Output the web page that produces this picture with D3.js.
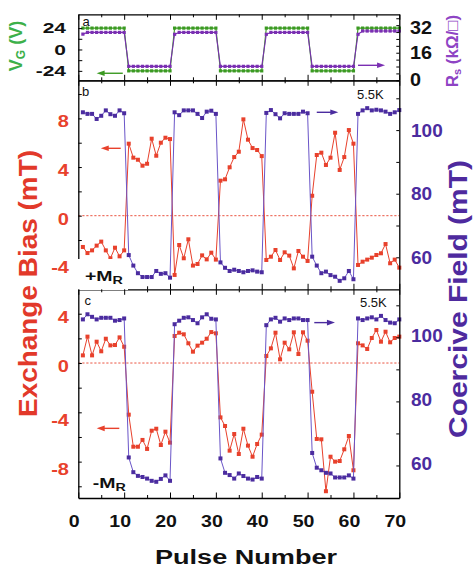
<!DOCTYPE html>
<html><head><meta charset="utf-8">
<script src="https://cdn.jsdelivr.net/npm/d3@7"></script>
<style>
body{margin:0;background:#fff}
svg{display:block}
text{font-family:"Liberation Sans",Arial,Helvetica,sans-serif}
</style>
</head><body>
<svg id="chart" width="474" height="569"></svg>
<script>
// ---------------- DATA ----------------
const pulses = [1,2,3,4,5,6,7,8,9,10,11,12,13,14,15,16,17,18,19,20,21,22,23,24,25,26,27,28,29,30,
  31,32,33,34,35,36,37,38,39,40,41,42,43,44,45,46,47,48,49,50,51,52,53,54,55,56,57,58,59,60,
  61,62,63,64,65,66,67,68,69,70];

// panel a : gate voltage (V) and sheet resistance (kOhm/sq)
const gateVoltage = [24,24,24,24,24,24,24,24,24,24, -24,-24,-24,-24,-24,-24,-24,-24,-24,-24,
  24,24,24,24,24,24,24,24,24,24, -24,-24,-24,-24,-24,-24,-24,-24,-24,-24,
  24,24,24,24,24,24,24,24,24,24, -24,-24,-24,-24,-24,-24,-24,-24,-24,-24,
  24,24,24,24,24,24,24,24,24,24];
const sheetResistance = [26.8,27.8,27.8,27.8,27.8,27.8,27.8,27.8,27.8,27.8, 8.1,8.1,8.1,8.1,8.1,8.1,8.1,8.1,8.1,8.1,
  26.7,27.8,27.8,27.8,27.8,27.8,27.8,27.8,27.8,27.8, 8.1,8.1,8.1,8.1,8.1,8.1,8.1,8.1,8.1,8.1,
  26.7,27.8,27.8,27.8,27.8,27.8,27.8,27.8,27.8,27.8, 8.1,8.1,8.1,8.1,8.1,8.1,8.1,8.1,8.1,8.1,
  26.7,28.6,28.6,28.6,28.6,28.6,28.6,28.6,28.6,28.6];

// panel b : +M_R
const exchangeBiasPlus = [-2.57,-3.07,-2.85,-2.46,-2.13,-2.85,-3.5,-2.63,-3.34,-2.85,
  5.92,4.77,4.6,4.11,4.27,6.33,4.93,6.0,6.41,6.3,
  -4.87,-2.41,-3.5,-1.94,-4.1,-3.97,-3.26,-3.59,-3.04,-3.61,
  2.88,2.99,3.98,4.82,5.26,7.92,6.25,5.56,5.4,4.9,
  -3.64,-3.37,-2.82,-3.64,-3.01,-3.28,-4.33,-2.9,-3.37,-3.72,
  1.64,4.99,5.18,4.17,4.77,6.82,3.76,4.82,7.04,5.92,
  -4.05,-3.78,-3.61,-3.45,-3.23,-3.09,-2.33,-3.91,-3.61,-4.27];
const coerciveFieldPlus = [105.6,105.1,105.1,103.5,104.5,106.2,105.0,104.5,106.2,105.3,
  60.7,57.4,55.0,53.8,53.8,53.8,55.7,54.8,55.0,53.6,
  105.6,104.7,106.2,106.2,106.2,105.1,103.8,105.8,106.1,105.1,
  58.4,56.7,55.7,56.1,55.7,55.3,55.7,55.9,55.5,55.3,
  105.4,106.3,105.0,103.7,105.3,105.1,105.1,105.1,105.8,105.3,
  60.2,57.4,55.0,55.5,54.4,53.9,52.6,53.4,55.7,53.1,
  105.1,106.2,106.9,106.2,106.4,106.2,105.8,105.1,105.6,106.3];

// panel c : -M_R
const exchangeBiasMinus = [0.62,2.14,0.62,1.73,0.95,1.97,1.43,1.46,2.08,1.32,
  -4.19,-6.79,-6.79,-6.24,-6.97,-5.49,-5.33,-6.65,-5.57,-6.46,
  2.19,2.46,2.33,1.6,0.92,1.41,1.65,1.97,2.51,2.41,
  -4.41,-5.11,-7.11,-5.76,-7.38,-5.33,-6.7,-7.6,-6.57,-5.81,
  0.57,1.19,2.46,0.3,1.65,1.11,2.49,0.73,2.49,1.81,
  -2.33,-6.16,-6.19,-10.4,-7.6,-8.0,-7.95,-7.0,-5.92,-8.7,
  1.6,1.43,1.14,2.03,2.68,1.73,2.54,1.68,2.03,2.14];
const coerciveFieldMinus = [105.6,107.2,106.4,105.6,106.1,106.1,106.1,105.2,105.4,105.9,
  62.5,57.9,56.75,56.4,55.9,55.2,54.9,55.8,56.9,55.2,
  104.1,105.2,106.1,106.25,105.4,104.4,106.25,107.2,105.8,105.6,
  62.2,57.7,57.0,55.9,57.5,56.7,55.9,55.6,56.4,55.9,
  103.8,105.6,106.1,104.9,105.9,105.4,105.9,105.9,105.4,105.4,
  63.9,59.3,58.5,57.7,57.5,56.25,56.25,56.25,56.9,55.9,
  105.9,105.4,105.9,106.25,105.6,106.7,105.4,104.6,104.4,105.6];

// tick values / labels
const xMajorTicks = [0,10,20,30,40,50,60,70];
const xMinorTicks = [5,15,25,35,45,55,65];
const vgTicks = [-24,-12,0,12,24];
const vgLabels = [-24,0,24];
const rsTicks = [0,4,8,12,16,20,24,28,32,36];
const rsLabels = [0,16,32];
const ebPlusTicks = [-4,-2,0,2,4,6,8,10];
const ebPlusLabels = [-4,0,4,8];
const ebMinusTicks = [-10,-8,-6,-4,-2,0,2,4];
const ebMinusLabels = [-8,-4,0,4];
const hcTicks = [60,70,80,90,100,110];
const hcLabels = [60,80,100];

// ---------------- STYLE ----------------
const RED = "#e8412c", PURPLE = "#4b2c9f", PURPLE_LINE = "#6a55c8",
      GREEN = "#3b9a22", VIOLET = "#7a2fb2";

const svg = d3.select("#chart");
const X0 = 78.3, X1 = 399.3;
const x = d3.scaleLinear().domain([0,70]).range([X0,X1]);

const A = {top:14.3, bottom:80.3}, B = {top:80.3, bottom:289.3}, C = {top:289.3, bottom:498};

const yA  = d3.scaleLinear().domain([-34.6,39.5]).range([A.bottom,A.top]);
const yAR = d3.scaleLinear().domain([0,38.3]).range([A.bottom,A.top]);
const yB  = d3.scaleLinear().domain([-6.05,11.13]).range([B.bottom,B.top]);
const yBR = d3.scaleLinear().domain([49.94,115.66]).range([B.bottom,B.top]);
const yC  = d3.scaleLinear().domain([-10.95,5.98]).range([C.bottom,C.top]);
const yCR = d3.scaleLinear().domain([49.84,115]).range([C.bottom,C.top]);

function styleAxis(g, keepDomain){
  g.selectAll("text").remove();
  g.selectAll("line").attr("stroke","#000").attr("stroke-width",1);
  if (keepDomain) g.select(".domain").attr("stroke","#000").attr("stroke-width",1.3);
  else g.select(".domain").remove();
}
function addAxis(gen, tx, ty, keepDomain){
  svg.append("g").attr("transform",`translate(${tx},${ty})`).call(gen).call(g=>styleAxis(g,keepDomain));
}
function xAxes(top, bottom, drawTop=true){
  addAxis(d3.axisBottom(x).tickValues(xMajorTicks).tickSize(-5.5).tickSizeOuter(0).tickFormat(""),0,bottom,true);
  addAxis(d3.axisBottom(x).tickValues(xMinorTicks).tickSize(-3).tickFormat(""),0,bottom,false);
  if (drawTop){
    addAxis(d3.axisTop(x).tickValues(xMajorTicks).tickSize(-5.5).tickSizeOuter(0).tickFormat(""),0,top,true);
    addAxis(d3.axisTop(x).tickValues(xMinorTicks).tickSize(-3).tickFormat(""),0,top,false);
  }
}
function yAxes(yL, yR, lt, rt, ls, rs){
  addAxis(d3.axisLeft(yL).tickValues(lt).tickSize(-ls).tickSizeOuter(0).tickFormat(""),X0,0,true);
  addAxis(d3.axisRight(yR).tickValues(rt).tickSize(-rs).tickSizeOuter(0).tickFormat(""),X1,0,true);
}
function label(txt, tx, ty, size, color, anchor, sx){
  svg.append("text").attr("transform",`translate(${tx},${ty}) scale(${sx},1)`)
    .attr("text-anchor",anchor).attr("dominant-baseline","central")
    .attr("font-size",size).attr("font-weight","bold").attr("fill",color).text(txt);
}
function series(data, yS, lineColor, ptColor, size, lw){
  const pts = pulses.map((p,i)=>({p, v:data[i]}));
  svg.append("path").datum(pts)
    .attr("d", d3.line().x(d=>x(d.p)).y(d=>yS(d.v)))
    .attr("fill","none").attr("stroke",lineColor).attr("stroke-width",lw);
  svg.append("g").selectAll("rect").data(pts).join("rect")
    .attr("x",d=>x(d.p)-size/2).attr("y",d=>yS(d.v)-size/2)
    .attr("width",size).attr("height",size).attr("fill",ptColor);
}
function zeroLine(yS){
  svg.append("line").attr("x1",X0).attr("x2",X1).attr("y1",yS(0)).attr("y2",yS(0))
    .attr("stroke",RED).attr("stroke-width",0.9).attr("stroke-dasharray","2.2,1.8");
}
function arrow(p1, p2, v, yS, color){
  const xa = x(p1), xb = x(p2), yy = yS(v);
  const dir = Math.sign(xb - xa);
  svg.append("line").attr("x1",xa).attr("x2",xb - dir*5).attr("y1",yy).attr("y2",yy)
    .attr("stroke",color).attr("stroke-width",1.4);
  svg.append("path").attr("d",`M${xb},${yy} L${xb-dir*8},${yy-2.8} L${xb-dir*8},${yy+2.8} Z`).attr("fill",color);
}
function plain(txt, tx, ty, size){
  svg.append("text").attr("x",tx).attr("y",ty).attr("font-size",size).attr("fill","#111").text(txt);
}

// ---------------- PANEL A ----------------
series(gateVoltage, yA, GREEN, GREEN, 3.2, 1.1);
series(sheetResistance, yAR, VIOLET, VIOLET, 3.2, 1.1);
yAxes(yA, yAR, vgTicks, rsTicks, 4, 3);
xAxes(A.top, A.bottom);
vgLabels.forEach(v=>label(String(v), 66, yA(v), 15, "#111", "end", 1.4));
rsLabels.forEach(v=>label(String(v), 410, yAR(v)+ (v===32?3:0), 18, "#111", "start", 1.1));
arrow(9.7, 4.0, -26.7, yA, GREEN);
arrow(61.0, 66.9, 8.7, yAR, VIOLET);
plain("a", 82.5, 25.5, 13);

// ---------------- PANEL B ----------------
zeroLine(yB);
series(exchangeBiasPlus, yB, RED, RED, 4, 1);
series(coerciveFieldPlus, yBR, PURPLE_LINE, PURPLE, 4, 1);
yAxes(yB, yBR, ebPlusTicks, hcTicks, 3.5, 3);
xAxes(B.top, B.bottom);
ebPlusLabels.forEach(v=>label(String(v), 69, yB(v)+3.5, 16, RED, "end", 1.25));
hcLabels.forEach(v=>label(String(v), 411, yBR(v), 19, PURPLE, "start", 1.0));
arrow(9.25, 4.9, 5.54, yB, RED);
arrow(52.0, 56.7, 105.6, yBR, PURPLE);
plain("b", 82, 96, 13);
plain("5.5K", 357, 99, 13);

// white label box for +M_R
svg.append("rect").attr("x",70).attr("y",259).attr("width",58).attr("height",31).attr("fill","#fff");
{
  const t = svg.append("text").attr("transform","translate(85,280.7) scale(1.3,1)")
    .attr("font-size",15).attr("font-weight","bold").attr("fill","#111");
  t.append("tspan").text("+M");
  t.append("tspan").attr("font-size",11).attr("dy",3).text("R");
}

// ---------------- PANEL C ----------------
zeroLine(yC);
series(exchangeBiasMinus, yC, RED, RED, 4, 1);
series(coerciveFieldMinus, yCR, PURPLE_LINE, PURPLE, 4, 1);
yAxes(yC, yCR, ebMinusTicks, hcTicks, 3.5, 3);
addAxis(d3.axisTop(x).tickValues(xMajorTicks).tickSize(-5.5).tickFormat(""),0,C.top,false);
addAxis(d3.axisTop(x).tickValues(xMinorTicks).tickSize(-3).tickFormat(""),0,C.top,false);
xAxes(C.top, C.bottom, false);
ebMinusLabels.forEach(v=>label(String(v), 69, yC(v)+ (v<0?8:4), 16, RED, "end", 1.25));
hcLabels.forEach(v=>label(String(v), 411, yCR(v)-1.5, 19, PURPLE, "start", 1.0));
arrow(8.94, 4.01, -5.3, yC, RED);
arrow(51.46, 55.97, 104.6, yCR, PURPLE);
plain("c", 84.5, 305, 13);
plain("5.5K", 360, 307, 13);
{
  const t = svg.append("text").attr("transform","translate(92.7,488) scale(1.3,1)")
    .attr("font-size",15).attr("font-weight","bold").attr("fill","#111");
  t.append("tspan").text("-M");
  t.append("tspan").attr("font-size",11).attr("dy",3).text("R");
}

// ---------------- X LABELS ----------------
xMajorTicks.forEach(v=>label(String(v), x(v)-4, 521.3, 17, "#111", "middle", 1.15));
label("Pulse Number", 246, 557, 21, "#111", "middle", 1.29);

// ---------------- AXIS TITLES ----------------
{
  const t = svg.append("text").attr("transform","translate(21.5,46) rotate(-90)")
    .attr("text-anchor","middle").attr("font-size",18).attr("font-weight","bold").attr("fill","#3cb04a");
  t.append("tspan").text("V");
  t.append("tspan").attr("font-size",12).attr("dy",3).text("G");
  t.append("tspan").attr("dy",-3).text(" (V)");
}
svg.append("text").attr("transform","translate(37,283.5) rotate(-90)")
  .attr("text-anchor","middle").attr("font-size",26).attr("font-weight","bold").attr("fill","#e2392a")
  .attr("textLength",267).attr("lengthAdjust","spacingAndGlyphs").text("Exchange Bias (mT)");
svg.append("text").attr("transform","translate(467,299) rotate(-90)")
  .attr("text-anchor","middle").attr("font-size",26).attr("font-weight","bold").attr("fill","#4e2a9e")
  .attr("textLength",278).attr("lengthAdjust","spacingAndGlyphs").text("Coercive Field (mT)");
{
  const t = svg.append("text").attr("transform","translate(458,51) rotate(-90)")
    .attr("text-anchor","middle").attr("font-size",17).attr("font-weight","bold").attr("fill","#8e44c4");
  t.append("tspan").text("R");
  t.append("tspan").attr("font-size",11).attr("dy",3).text("s");
  t.append("tspan").attr("dy",-3).text(" (k\u03A9/\u25A1)");
}
</script>
</body></html>
